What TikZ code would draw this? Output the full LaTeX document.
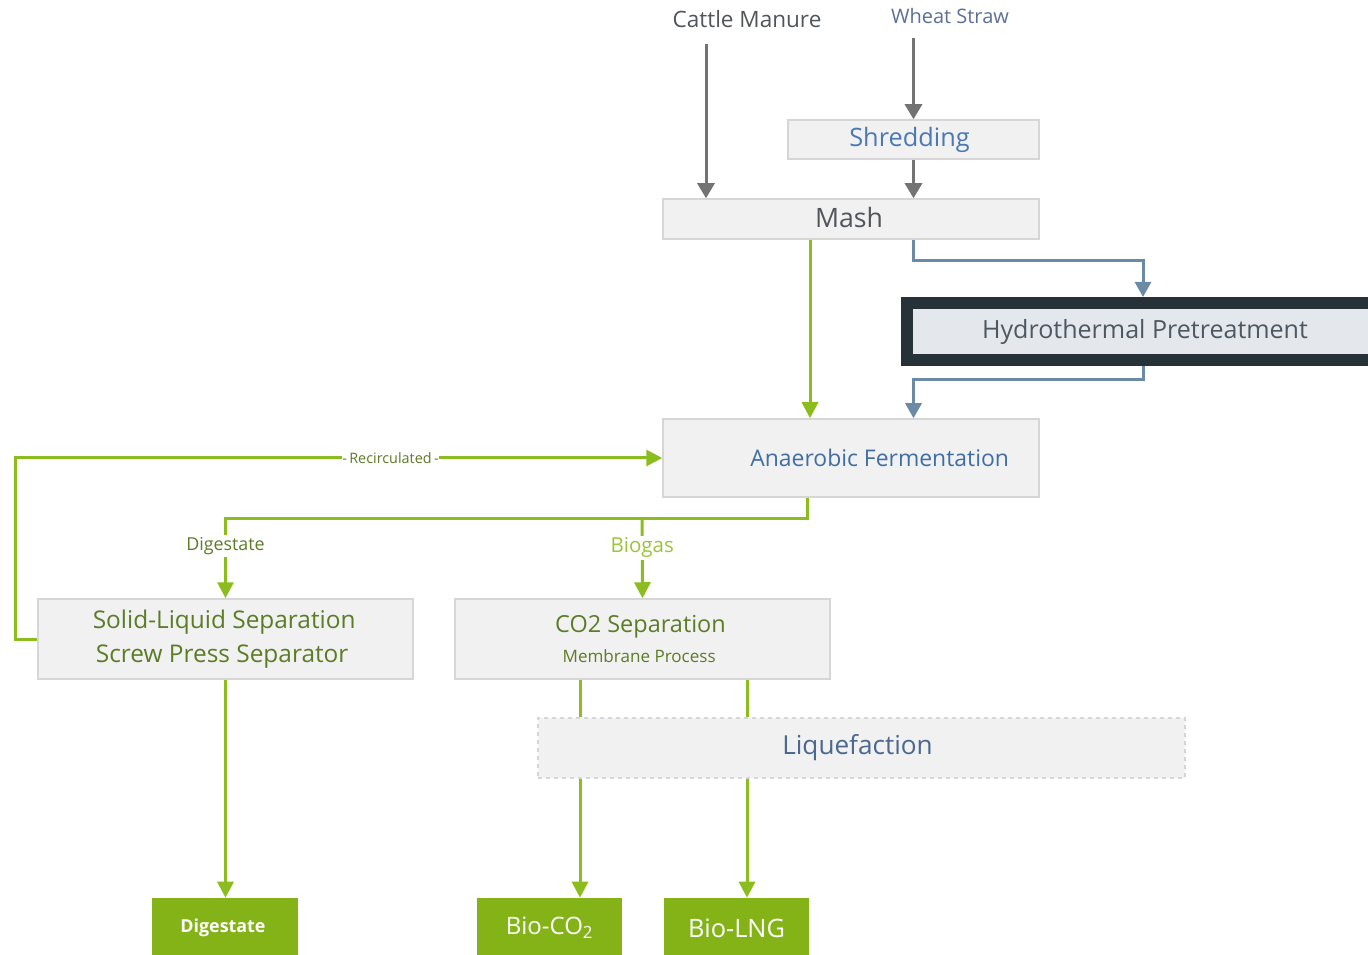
\documentclass[tikz,border=0pt]{standalone}
\usepackage{fontspec}
\setmainfont{Open Sans}
\usetikzlibrary{arrows.meta,calc}
\def\PX{0.75pt}
\definecolor{boxfill}{HTML}{F1F1F1}
\definecolor{boxline}{HTML}{D6D6D6}
\definecolor{gline}{HTML}{8CBD1F}
\definecolor{gbox}{HTML}{84B318}
\definecolor{graytext}{HTML}{50565C}
\definecolor{bluetext}{HTML}{4A78B5}
\definecolor{fermtext}{HTML}{3F6EA5}
\definecolor{liqtext}{HTML}{4A6890}
\definecolor{bline}{HTML}{6A8AA5}
\definecolor{grayline}{HTML}{737373}
\definecolor{olive}{HTML}{5C7C28}
\definecolor{biogas}{HTML}{9CC43A}
\definecolor{wheat}{HTML}{5A7095}
\definecolor{hdark}{HTML}{263238}
\definecolor{hfill}{HTML}{E4E8EC}
\definecolor{htext}{HTML}{4D5862}
\tikzset{
  procbox/.style={draw=boxline, fill=boxfill, line width=1.5*\PX, inner sep=0pt, align=center},
  prodbox/.style={fill=gbox, draw=none, inner sep=0pt, text=white, align=center},
  grayarr/.style={draw=grayline, line width=3*\PX, -{Triangle[width=17*\PX,length=15*\PX]}},
  bluearr/.style={draw=bline, line width=3*\PX, -{Triangle[width=16*\PX,length=15*\PX]}},
  greenarr/.style={draw=gline, line width=3*\PX, -{Triangle[width=16*\PX,length=16*\PX]}},
  greenline/.style={draw=gline, line width=3*\PX},
  flowlabel/.style={fill=white, inner sep=1.5pt},
}
\newcommand{\fs}[1]{\fontsize{#1}{#1*1.2}\selectfont}
\begin{document}
\begin{tikzpicture}[x=0.75pt,y=-0.75pt]
\useasboundingbox (0,0) rectangle (1368,955);

% column coordinates
\coordinate (xcm) at (706,0);
\coordinate (xg) at (810,0);
\coordinate (xfo) at (807,0);
\coordinate (xc1) at (580,0);
\coordinate (xc2) at (747,0);
\coordinate (bj) at (642,519);

% inputs
\node[text=graytext, font=\fs{16.9pt}] (cattle) at (747,19) {Cattle Manure};
\node[text=wheat, font=\fs{15pt}] (wheat) at (950,16) {Wheat Straw};

% boxes
\node[procbox, minimum width=251*\PX, minimum height=39*\PX, text=bluetext, font=\fs{19pt}] (shred) at (913.5,139.5) {\hspace*{-6pt}Shredding};
\node[procbox, minimum width=376*\PX, minimum height=40*\PX, text=graytext, font=\fs{20pt}] (mash) at (851,219) {\hspace*{-3pt}\raisebox{2pt}{Mash}};
\node[draw=hdark, fill=hfill, line width=12*\PX, minimum width=476*\PX, minimum height=57*\PX, inner sep=0pt, text=htext, font=\fs{18.8pt}] (hydro) at (1145,331.5) {Hydrothermal Pretreatment};
\node[procbox, minimum width=376*\PX, minimum height=78*\PX, text=fermtext, font=\fs{17.2pt}] (ferm) at (851,458) {\hspace*{43pt}Anaerobic Fermentation};
\node[procbox, minimum width=375*\PX, minimum height=80*\PX, text=olive, font=\fs{18.3pt}] (sl) at (225.5,639) {\hspace*{-2pt}Solid-Liquid Separation\\[7.5pt]\hspace*{-5pt}Screw Press Separator};
\node[procbox, minimum width=375*\PX, minimum height=80*\PX, text=olive, font=\fs{17.6pt}] (co2) at (642.5,639) {\hspace*{-3pt}CO2 Separation\\[5pt]{\fs{12.8pt}\hspace*{-5pt}Membrane Process}};
\node[draw=boxline, dashed, fill=boxfill, line width=1.5*\PX, minimum width=647*\PX, minimum height=60*\PX, inner sep=0pt, text=liqtext, font=\fs{19.6pt}] (liq) at (861.5,748) {\hspace*{-6pt}Liquefaction};

% products
\node[prodbox, minimum width=146*\PX, minimum height=60*\PX, font=\fs{13.4pt}\bfseries] (dig) at (225,928) {\hspace*{-3pt}Digestate};
\node[prodbox, minimum width=145*\PX, minimum height=60*\PX, font=\fs{18pt}] (bco2) at (549.5,928) {Bio-CO\textsubscript{2}};
\node[prodbox, minimum width=145*\PX, minimum height=60*\PX, font=\fs{19pt}] (blng) at (736.5,928) {Bio-LNG};

% gray feed arrows
\draw[grayarr] ([yshift=-12*\PX]cattle.south -| xcm) -- (mash.north -| xcm);
\draw[grayarr] ([yshift=-10*\PX]wheat.south -| shred) -- (shred.north);
\draw[grayarr] (shred.south) -- (mash.north -| shred);

% mash to fermentation (direct)
\draw[greenarr] (mash.south -| xg) -- (ferm.north -| xg);

% pretreatment loop
\draw[bluearr] (mash.south -| shred) -- ++(0,21) -| ([xshift=-2*\PX]hydro.north);
\draw[bluearr] ([xshift=-2*\PX]hydro.south) -- ++(0,14) -| (ferm.north -| shred);

% fermentation outputs
\draw[greenarr] (ferm.south -| xfo) |- (bj) -| node[pos=0.67, flowlabel, text=olive, font=\fs{13.4pt}] {Digestate} (sl.north);
\draw[greenarr] (bj) -- node[pos=0.36, flowlabel, text=biogas, font=\fs{15.4pt}] {Biogas} (co2.north);

% recirculation
\draw[greenarr] (sl.west) -- ++(-22,0) |- node[pos=0.79, flowlabel, inner xsep=0pt, text=olive, font=\fs{10.8pt}] {-\,Recirculated\,-} (ferm.west);

% CO2 separation to liquefaction
\draw[greenline] (co2.south -| xc1) -- (liq.north -| xc1);
\draw[greenline] (co2.south -| xc2) -- (liq.north -| xc2);

% to products
\draw[greenarr] (sl.south) -- (dig.north -| sl.south);
\draw[greenarr] (liq.south -| xc1) -- (bco2.north -| xc1);
\draw[greenarr] (liq.south -| xc2) -- (blng.north -| xc2);
\end{tikzpicture}
\end{document}
